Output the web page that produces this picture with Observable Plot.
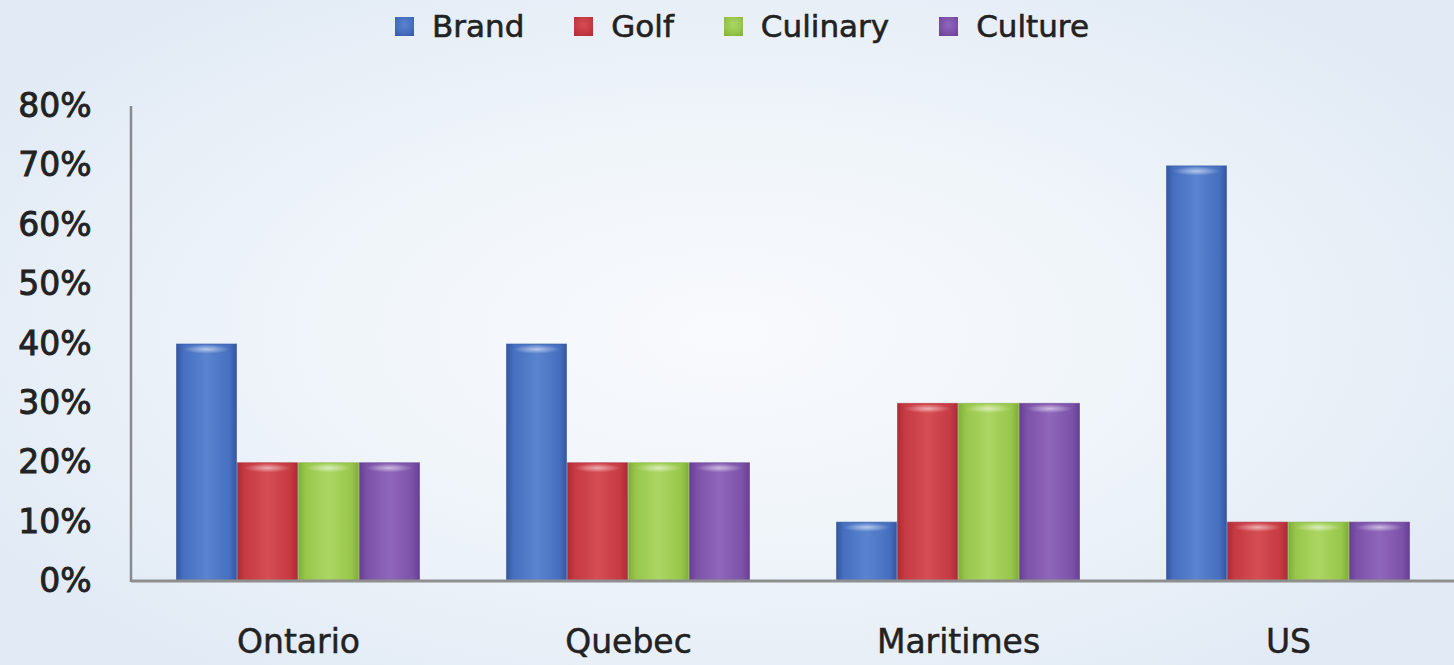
<!DOCTYPE html>
<html>
<head>
<meta charset="utf-8">
<script src="https://cdn.jsdelivr.net/npm/d3@7"></script>
<script src="https://cdn.jsdelivr.net/npm/@observablehq/plot@0.6"></script>
<style>
  html { margin: 0; padding: 0; overflow: hidden; }
  body { margin: 0; padding: 0;
    width: 1454px; height: 665px; overflow: hidden;
    background: radial-gradient(ellipse 60% 65% at 50% 50%, #f8fafd 0%, #f0f5fa 45%, #e1eaf5 100%);
    font-family: "DejaVu Sans", sans-serif;
  }
  #legend {
    height: 60px; display: flex; justify-content: center; align-items: center;
    padding-left: 30px; padding-bottom: 8px; box-sizing: border-box;
  }
  .item { display: flex; align-items: center; margin: 0 25px; font-size: 31px; color: #222;
    -webkit-text-stroke: 0.6px #222; }
  .sw { width: 19px; height: 19px; margin-right: 18px; }
  #chart { width: 1454px; }
  #chart svg { display: block; overflow: visible; max-width: none !important; }
  #chart svg text { stroke: #222; stroke-width: 0.5px; }
  #chart svg .ylab text { stroke-width: 0.9px; }
</style>
</head>
<body>
<div id="legend"></div>
<div id="chart"></div>
<script>
// ---- data ----
const regions = ["Ontario", "Quebec", "Maritimes", "US"];
const series = ["Brand", "Golf", "Culinary", "Culture"];
const brand    = [40, 40, 10, 70];
const golf     = [20, 20, 30, 10];
const culinary = [20, 20, 30, 10];
const culture  = [20, 20, 30, 10];
const yTicks = [0, 10, 20, 30, 40, 50, 60, 70, 80];

// colors: [edge, mid, light]
const palette = {
  Brand:    ["#3556a0", "#4670bf", "#5a84cf"],
  Golf:     ["#ab2c35", "#c63a42", "#d64d54"],
  Culinary: ["#80ad3a", "#98c64b", "#acd663"],
  Culture:  ["#673f92", "#7b52a8", "#8e66ba"]
};

const valuesBySeries = {Brand: brand, Golf: golf, Culinary: culinary, Culture: culture};
const rows = [];
series.forEach(s => regions.forEach((r, i) => rows.push({region: r, series: s, value: valuesBySeries[s][i]})));

// legend
const legend = document.getElementById("legend");
series.forEach(s => {
  const it = document.createElement("div");
  it.className = "item";
  const sw = document.createElement("div");
  sw.className = "sw";
  const [e, m, l] = palette[s];
  sw.style.background = `radial-gradient(circle at 50% 40%, ${l} 0%, ${m} 55%, ${e} 100%)`;
  it.appendChild(sw);
  const t = document.createElement("span");
  t.textContent = s;
  it.appendChild(t);
  legend.appendChild(it);
});

const plot = Plot.plot({
  width: 1454,
  height: 605,
  marginTop: 46,
  marginBottom: 84,
  marginLeft: 131,
  marginRight: 0,
  style: {background: "transparent", fontFamily: "DejaVu Sans, sans-serif", color: "#222"},
  fx: {domain: regions, padding: 0, label: null},
  x: {domain: series, paddingInner: 0, paddingOuter: 0.68, axis: null},
  y: {domain: [0, 80], label: null},
  marks: [
    ...series.map(s => Plot.barY(rows.filter(d => d.series === s), {
      fx: "region", x: "series", y: "value", fill: `url(#grad-${s})`,
      stroke: palette[s][0], strokeOpacity: 0.6, strokeWidth: 1, inset: 0.5
    })),
    // glossy highlight at each bar's top
    ...series.map(s => Plot.barY(rows.filter(d => d.series === s), {
      fx: "region", x: "series", y1: d => d.value - 1.7, y2: d => d.value - 0.25,
      fill: "url(#hl)", insetLeft: 7, insetRight: 7
    })),
    Plot.axisY({ticks: yTicks, tickSize: 0, tickPadding: 42, fontSize: 33,
      tickFormat: d => d + "%", label: null, className: "ylab"}),
    Plot.axisFx({anchor: "bottom", tickSize: 0, tickPadding: 48, fontSize: 33, label: null})
  ]
});

// gradient definitions and axis lines from the plot's own scales
const svg = d3.select(plot);
const defs = svg.insert("defs", ":first-child");
series.forEach(s => {
  const [e, m, l] = palette[s];
  const g = defs.append("linearGradient").attr("id", `grad-${s}`).attr("x1", 0).attr("x2", 1).attr("y1", 0).attr("y2", 0);
  [[0, e], [0.12, m], [0.5, l], [0.88, m], [1, e]].forEach(([o, c]) =>
    g.append("stop").attr("offset", o).attr("stop-color", c));
});
const hl = defs.append("radialGradient").attr("id", "hl").attr("cx", 0.5).attr("cy", 0.5).attr("r", 0.5);
hl.append("stop").attr("offset", 0).attr("stop-color", "#ffffff").attr("stop-opacity", 0.55);
hl.append("stop").attr("offset", 1).attr("stop-color", "#ffffff").attr("stop-opacity", 0);

const yScale = plot.scale("y");
const fxScale = plot.scale("fx");
svg.append("line")
  .attr("x1", fxScale.range[0]).attr("x2", plot.getAttribute("width"))
  .attr("y1", yScale.apply(0)).attr("y2", yScale.apply(0))
  .attr("stroke", "#8f8f8f").attr("stroke-width", 3);
svg.append("line")
  .attr("x1", fxScale.range[0]).attr("x2", fxScale.range[0])
  .attr("y1", yScale.apply(80)).attr("y2", yScale.apply(0) + 1)
  .attr("stroke", "#8a8a8a").attr("stroke-width", 2.5);

document.getElementById("chart").appendChild(plot);
</script>
</body>
</html>
